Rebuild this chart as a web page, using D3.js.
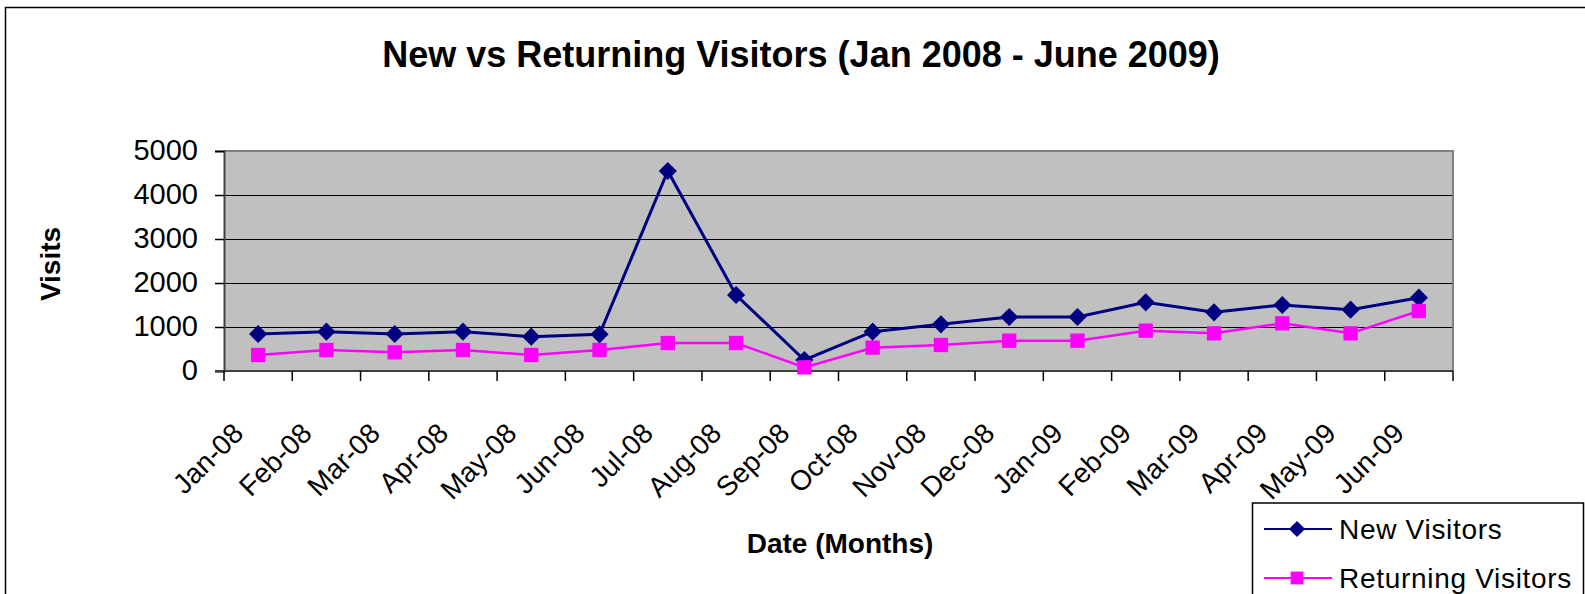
<!DOCTYPE html>
<html>
<head>
<meta charset="utf-8">
<script src="https://cdn.jsdelivr.net/npm/d3@7/dist/d3.min.js"></script>
<style>
body{margin:0;background:#fff;}
text{font-family:"Liberation Sans",Arial,sans-serif;fill:#000;}
</style>
</head>
<body>
<script>
// data
var months=["Jan-08","Feb-08","Mar-08","Apr-08","May-08","Jun-08","Jul-08","Aug-08","Sep-08",
  "Oct-08","Nov-08","Dec-08","Jan-09","Feb-09","Mar-09","Apr-09","May-09","Jun-09"];
var newVisitors=[841,894,841,894,780,833,4545,1727,250,894,1061,1227,1227,1561,1333,1500,1394,1667];
var returningVisitors=[364,477,424,477,364,477,636,636,83,530,591,689,689,917,856,1083,856,1364];
var yTicks=[0,1000,2000,3000,4000,5000];

var width=1585,height=594;
var plot={left:224,right:1453,top:151,bottom:371};

var svg=d3.select("body").append("svg")
  .attr("width",width)
  .attr("height",height);

// outer chart frame (runs off the right / bottom)
svg.append("rect")
  .attr("x",5.5).attr("y",7.5)
  .attr("width",1620).attr("height",620)
  .attr("fill","none").attr("stroke","#000").attr("stroke-width",1.5);

var x=d3.scaleBand().domain(months).range([plot.left,plot.right]).padding(0);
var y=d3.scaleLinear().domain([0,5000]).range([plot.bottom,plot.top]);
var cx=function(d){return x(d)+x.bandwidth()/2;};

// plot area
svg.append("rect")
  .attr("x",plot.left).attr("y",plot.top)
  .attr("width",plot.right-plot.left).attr("height",plot.bottom-plot.top)
  .attr("fill","#c0c0c0");

// gridlines
svg.append("g").selectAll("line")
  .data(yTicks.filter(function(d){return d>0&&d<5000;}))
  .enter().append("line")
  .attr("x1",plot.left).attr("x2",plot.right)
  .attr("y1",function(d){return y(d)+0.5;}).attr("y2",function(d){return y(d)+0.5;})
  .attr("stroke","#000").attr("stroke-width",1);

// top/right border
svg.append("path")
  .attr("d","M"+plot.left+","+(plot.top)+"H"+plot.right+"V"+plot.bottom)
  .attr("fill","none").attr("stroke","#808080").attr("stroke-width",2);

// y axis
var yAxis=d3.axisLeft(y).tickValues(yTicks).tickFormat(d3.format("d")).tickSize(9).tickPadding(0);
var gy=svg.append("g").attr("transform","translate("+plot.left+",0)").call(yAxis);
gy.select(".domain").attr("stroke","#404040").attr("stroke-width",2);
gy.selectAll(".tick line").attr("stroke","#000").attr("stroke-width",1.5);
gy.selectAll(".tick text")
  .attr("x",-26).attr("dy",null).attr("y",8)
  .style("font-size","29px").attr("fill","#000")
  .attr("font-family",null);

// x axis: ticks at category boundaries
var bounds=months.map(function(d){return x(d);}).concat([plot.right]);
svg.append("line")
  .attr("x1",plot.left-9).attr("x2",plot.right)
  .attr("y1",plot.bottom).attr("y2",plot.bottom)
  .attr("stroke","#404040").attr("stroke-width",2);
svg.append("g").selectAll("line").data(bounds).enter().append("line")
  .attr("x1",function(d){return d;}).attr("x2",function(d){return d;})
  .attr("y1",plot.bottom).attr("y2",plot.bottom+10)
  .attr("stroke","#000").attr("stroke-width",1.5);

svg.append("g").selectAll("text").data(months).enter().append("text")
  .attr("transform",function(d){return "translate("+(cx(d)-13)+","+435+") rotate(-45)";})
  .attr("text-anchor","end")
  .style("font-size","28px")
  .text(function(d){return d;});

// lines
var series=[
  {name:"New Visitors",values:newVisitors,color:"#000080",rot:45,size:165,width:3},
  {name:"Returning Visitors",values:returningVisitors,color:"#ff00ff",rot:0,size:205,width:2.5}
];
var line=d3.line()
  .x(function(d,i){return cx(months[i]);})
  .y(function(d){return y(d);});

series.forEach(function(s){
  svg.append("path")
    .datum(s.values)
    .attr("d",line)
    .attr("fill","none")
    .attr("stroke",s.color)
    .attr("stroke-width",s.width);
  svg.append("g").selectAll("path").data(s.values).enter().append("path")
    .attr("transform",function(d,i){return "translate("+cx(months[i])+","+y(d)+") rotate("+s.rot+")";})
    .attr("d",d3.symbol().type(d3.symbolSquare).size(s.size))
    .attr("fill",s.color);
});

// titles
svg.append("text")
  .attr("x",801).attr("y",67)
  .attr("text-anchor","middle")
  .style("font-size","36px").style("font-weight","bold")
  .text("New vs Returning Visitors (Jan 2008 - June 2009)");

svg.append("text")
  .attr("transform","translate(60,264) rotate(-90)")
  .attr("text-anchor","middle")
  .style("font-size","28px").style("font-weight","bold")
  .text("Visits");

svg.append("text")
  .attr("x",840).attr("y",553)
  .attr("text-anchor","middle")
  .style("font-size","28px").style("font-weight","bold")
  .text("Date (Months)");

// legend
var legend=svg.append("g");
legend.append("rect")
  .attr("x",1252.5).attr("y",503)
  .attr("width",331).attr("height",120)
  .attr("fill","#fff").attr("stroke","#000").attr("stroke-width",1.5);
var legRows=legend.selectAll("g.row").data(series).enter().append("g")
  .attr("class","row")
  .attr("transform",function(d,i){return "translate(0,"+(529+i*49)+")";});
legRows.append("line")
  .attr("x1",1264).attr("x2",1332).attr("y1",0).attr("y2",0)
  .attr("stroke",function(d){return d.color;}).attr("stroke-width",2);
legRows.append("path")
  .attr("transform",function(d){return "translate(1297,0) rotate("+d.rot+")";})
  .attr("d",function(d){return d3.symbol().type(d3.symbolSquare).size(d.size*0.8)();})
  .attr("fill",function(d){return d.color;});
legRows.append("text")
  .attr("x",1339).attr("y",10)
  .style("font-size","28px").style("letter-spacing","0.7px")
  .text(function(d){return d.name;});
</script>
</body>
</html>
